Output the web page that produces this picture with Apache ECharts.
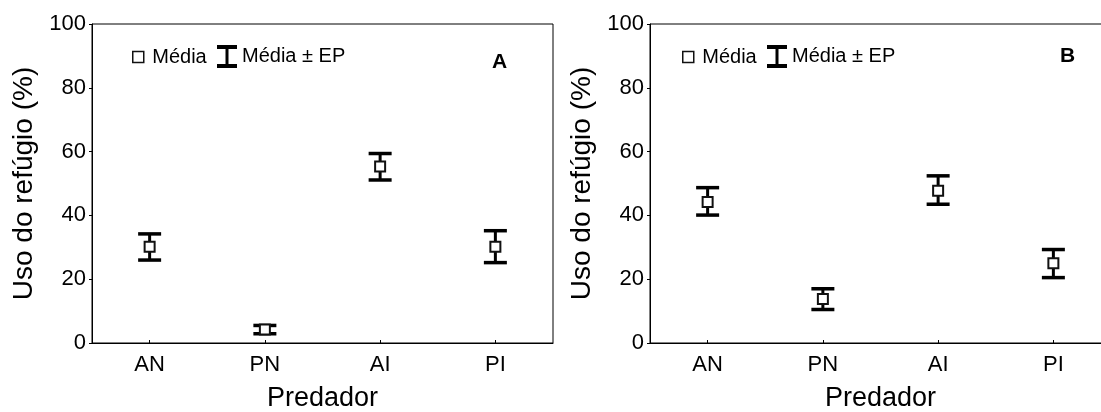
<!DOCTYPE html>
<html>
<head>
<meta charset="utf-8">
<script src="https://cdn.jsdelivr.net/npm/echarts@6/dist/echarts.min.js"></script>
<style>
  html, body { margin: 0; padding: 0; background: #fff; }
  #chart { width: 1101px; height: 412px; }
</style>
</head>
<body>
<div id="chart"></div>
<script>
// Predator treatments on the x axis
const categories = ['AN', 'PN', 'AI', 'PI'];
const yTicks = [0, 20, 40, 60, 80, 100];

// Panel A: refuge use (%), mean and mean ± standard error
const meanA = [30.2, 4.2, 55.3, 30.2];
const lowA  = [26.0, 2.9, 51.1, 25.2];
const highA = [34.2, 5.5, 59.4, 35.2];

// Panel B: refuge use (%), mean and mean ± standard error
const meanB = [44.2, 13.8, 47.7, 25.0];
const lowB  = [40.1, 10.5, 43.5, 20.5];
const highB = [48.7, 17.0, 52.4, 29.3];

const FONT = '"Liberation Sans", Arial, Helvetica, sans-serif';
const INK = '#000';

const chart = echarts.init(document.getElementById('chart'), null, { renderer: 'canvas' });

// Whisker with caps, drawn from the low/high values through the axis scales
function errorBar(params, api) {
  const xi = api.value(0);
  const pLo = api.coord([xi, api.value(1)]);
  const pHi = api.coord([xi, api.value(2)]);
  const half = 11.5;
  const capStyle = { stroke: INK, lineWidth: 3.5 };
  return {
    type: 'group',
    children: [
      { type: 'line', shape: { x1: pLo[0], y1: pLo[1], x2: pHi[0], y2: pHi[1] },
        style: { stroke: INK, lineWidth: 3 } },
      { type: 'line', shape: { x1: pHi[0] - half, y1: pHi[1], x2: pHi[0] + half, y2: pHi[1] },
        style: capStyle },
      { type: 'line', shape: { x1: pLo[0] - half, y1: pLo[1], x2: pLo[0] + half, y2: pLo[1] },
        style: capStyle }
    ]
  };
}

function xAxisFor(gridIndex) {
  return {
    type: 'category', gridIndex, data: categories, boundaryGap: true,
    name: 'Predador', nameLocation: 'middle', nameGap: 42,
    nameTextStyle: { fontFamily: FONT, fontSize: 27, color: INK },
    axisLine: { show: true, lineStyle: { color: INK, width: 1 } },
    axisTick: { show: true, alignWithLabel: true, inside: true, length: 3, lineStyle: { color: INK } },
    axisLabel: { fontFamily: FONT, fontSize: 22, color: INK, margin: 11 },
    splitLine: { show: false }
  };
}

function yAxisFor(gridIndex) {
  return {
    type: 'value', gridIndex, min: yTicks[0], max: yTicks[yTicks.length - 1],
    interval: yTicks[1] - yTicks[0],
    name: 'Uso do refúgio (%)', nameLocation: 'middle', nameGap: 54,
    nameTextStyle: { fontFamily: FONT, fontSize: 28, color: INK },
    axisLine: { show: true, lineStyle: { color: INK, width: 1 } },
    axisTick: { show: true, inside: false, length: 3, lineStyle: { color: INK } },
    axisLabel: { fontFamily: FONT, fontSize: 22, color: INK, margin: 6 },
    splitLine: { show: false }
  };
}

function seriesFor(idx, mean, low, high) {
  return [
    {
      name: 'Média ± EP', type: 'custom', xAxisIndex: idx, yAxisIndex: idx,
      renderItem: errorBar, itemStyle: { color: INK },
      encode: { x: 0, y: [1, 2] },
      data: categories.map((c, i) => [i, low[i], high[i]]),
      z: 2, silent: true
    },
    {
      name: 'Média', type: 'scatter', xAxisIndex: idx, yAxisIndex: idx,
      symbol: 'rect', symbolSize: 10,
      itemStyle: { color: '#fff', borderColor: '#111', borderWidth: 2, opacity: 1 },
      data: mean, z: 3, silent: true
    }
  ];
}

const squareIcon = 'path://M0,0H10V10H0Z';
const ibeamIcon = 'path://M0,0H20V4H11.5V19H20V23H0V19H8.5V4H0Z';

function legendsFor(x) {
  const text = { fontFamily: FONT, fontSize: 20, color: INK };
  return [
    {
      left: x, top: 47, padding: 0, selectedMode: false, orient: 'horizontal',
      itemWidth: 18, itemHeight: 11, textStyle: text,
      data: [{ name: 'Média', icon: squareIcon,
               itemStyle: { color: '#fff', borderColor: '#111', borderWidth: 1.5 } }]
    },
    {
      left: x + 85, top: 45, padding: 0, selectedMode: false, orient: 'horizontal',
      itemWidth: 20, itemHeight: 23, textStyle: text,
      data: [{ name: 'Média ± EP', icon: ibeamIcon,
               itemStyle: { color: INK, borderWidth: 0 } }]
    }
  ];
}

const gridBase = {
  top: 24, width: 461, bottom: 69, show: true, borderColor: INK, borderWidth: 1,
  containLabel: false, outerBoundsMode: 'none'
};

const option = {
  backgroundColor: '#fff',
  animation: false,
  textStyle: { fontFamily: FONT },
  title: [
    { text: 'A', left: 492, top: 52, padding: 0,
      textStyle: { fontFamily: FONT, fontSize: 21, fontWeight: 'bold', color: INK } },
    { text: 'B', left: 1060, top: 46, padding: 0,
      textStyle: { fontFamily: FONT, fontSize: 21, fontWeight: 'bold', color: INK } }
  ],
  legend: [...legendsFor(132), ...legendsFor(682)],
  grid: [
    Object.assign({ left: 92 }, gridBase),
    Object.assign({ left: 650 }, gridBase)
  ],
  xAxis: [xAxisFor(0), xAxisFor(1)],
  yAxis: [yAxisFor(0), yAxisFor(1)],
  series: [...seriesFor(0, meanA, lowA, highA), ...seriesFor(1, meanB, lowB, highB)]
};

chart.setOption(option);
</script>
</body>
</html>
